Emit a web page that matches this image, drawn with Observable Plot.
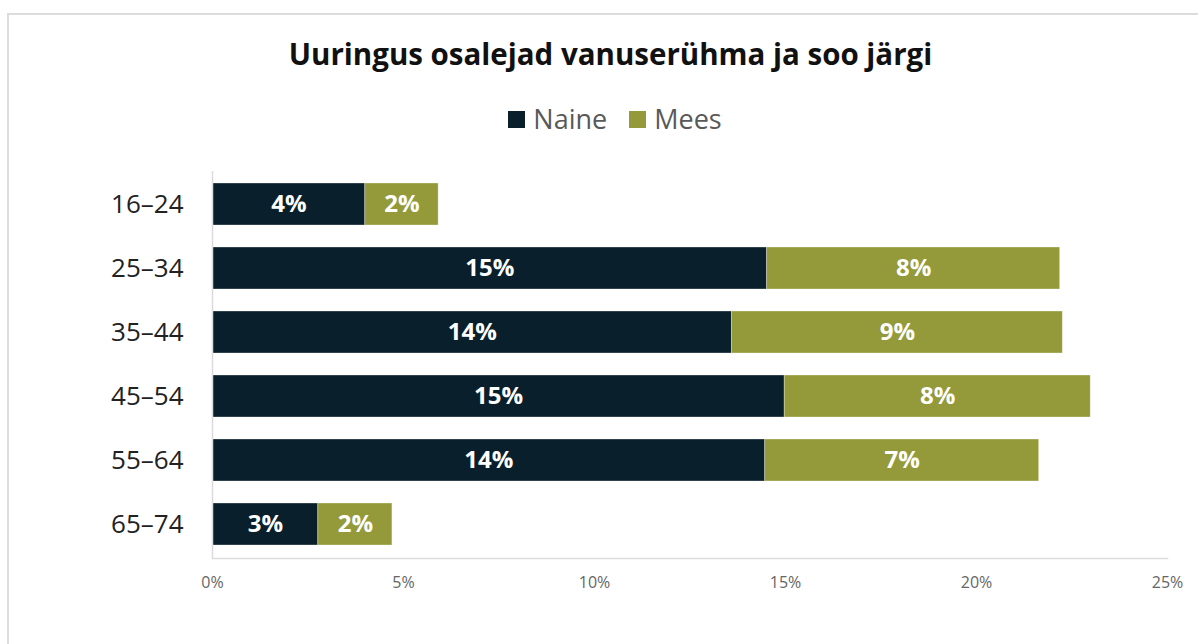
<!DOCTYPE html>
<html>
<head>
<meta charset="utf-8">
<script src="https://cdn.jsdelivr.net/npm/d3@7"></script>
<script src="https://cdn.jsdelivr.net/npm/@observablehq/plot@0.6"></script>
<style>
  html, body { margin: 0; padding: 0; background: #fff; width: 1198px; height: 644px; overflow: hidden; font-family: "Open Sans", sans-serif; }
  #frame { position: absolute; left: 7px; top: 13px; width: 1300px; height: 700px; border-left: 2px solid #dcdcdc; border-top: 2px solid #dcdcdc; }
  #title { position: absolute; left: 0; top: 35px; width: 1221px; text-align: center; font-size: 29.5px; font-weight: 700; color: #111; line-height: 38px; }
  #legend { position: absolute; left: 0; top: 102px; width: 1230px; display: flex; justify-content: center; align-items: center; font-size: 27px; color: #595959; line-height: 34px; }
  .item { display: flex; align-items: center; margin: 0 11px; }
  .sw { width: 17px; height: 17px; margin-right: 8px; }
  #chart { position: absolute; left: 0; top: 149px; }
</style>
</head>
<body>
<div id="frame"></div>
<div id="title">Uuringus osalejad vanuserühma ja soo järgi</div>
<div id="legend"></div>
<div id="chart"></div>
<script>
const ages = ["16–24", "25–34", "35–44", "45–54", "55–64", "65–74"];
const genders = ["Naine", "Mees"];
const naine = [4.0, 14.52, 13.6, 14.98, 14.47, 2.77];
const mees = [1.92, 7.67, 8.66, 8.01, 7.17, 1.94];
const colors = ["#0a1f2c", "#949a3a"];
const xTicks = [0, 5, 10, 15, 20, 25];

const data = [];
ages.forEach((a, i) => {
  data.push({age: a, gender: "Naine", value: naine[i]});
  data.push({age: a, gender: "Mees", value: mees[i]});
});

const legend = document.getElementById("legend");
genders.forEach((g, i) => {
  const it = document.createElement("div");
  it.className = "item";
  it.innerHTML = `<div class="sw" style="background:${colors[i]}"></div><span>${g}</span>`;
  legend.appendChild(it);
});

const chart = Plot.plot({
  width: 1198,
  height: 459,
  marginTop: 22,
  marginBottom: 50,
  marginLeft: 212,
  marginRight: 31,
  style: {fontFamily: "Open Sans, sans-serif", background: "transparent", overflow: "visible"},
  x: {domain: [0, 25], ticks: xTicks, tickFormat: d => d + "%", label: null},
  y: {domain: ages, paddingInner: 0.34, paddingOuter: 0.166, label: null},
  color: {domain: genders, range: colors},
  marks: [
    Plot.barX(data, Plot.stackX({x: "value", y: "age", z: "gender", fill: "gender", stroke: "#ffffff", strokeWidth: 0.8, strokeOpacity: 0.4})),
    Plot.text(data, Plot.stackX({x: "value", y: "age", z: "gender", text: d => Math.round(d.value) + "%", fill: "white", fontWeight: 700, fontSize: 24})),
    Plot.ruleX([0], {stroke: "#dcdcdc", strokeWidth: 1.5}),
    Plot.frame({anchor: "bottom", stroke: "#dcdcdc", strokeWidth: 1.5}),
    Plot.axisY({tickSize: 0, tickPadding: 29, fontSize: 26, color: "#222", label: null}),
    Plot.axisX({ticks: xTicks, tickSize: 0, tickPadding: 18, fontSize: 16, color: "#666", tickFormat: d => d + "%", label: null})
  ]
});
document.getElementById("chart").appendChild(chart);
</script>
</body>
</html>
